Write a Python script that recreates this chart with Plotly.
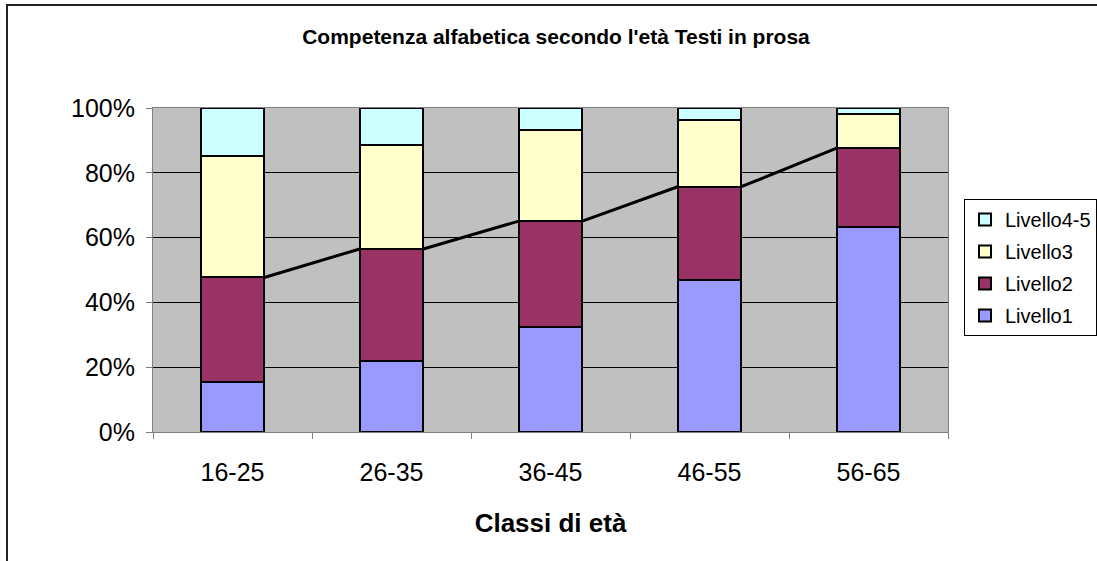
import plotly.graph_objects as go

categories = ["16-25", "26-35", "36-45", "46-55", "56-65"]
livello1 = [15.3, 21.9, 32.3, 46.9, 63.4]
livello2 = [32.4, 34.6, 32.8, 28.8, 24.2]
livello3 = [37.6, 32.1, 28.2, 20.5, 10.4]
livello45 = [14.7, 11.4, 6.7, 3.8, 2.0]
y_ticks = [0, 20, 40, 60, 80, 100]

series = [
    ("Livello1", livello1, "#9999FF"),
    ("Livello2", livello2, "#993366"),
    ("Livello3", livello3, "#FFFFCC"),
    ("Livello4-5", livello45, "#CCFFFF"),
]

W, H = 1097, 561
L, R, T, B = 153, 149, 108, 129
BAR_W = 0.4
xs = list(range(len(categories)))

fig = go.Figure()
for i, (name, vals, col) in enumerate(series):
    fig.add_trace(go.Bar(
        x=xs, y=vals, name=name, width=BAR_W,
        marker=dict(color=col, line=dict(color="black", width=2)),
        legendgroup=name, legendrank=100 - i,
    ))

# series line connecting the top of Livello2 across bars
cum2 = [a + b for a, b in zip(livello1, livello2)]
lx, ly = [], []
for i in range(len(xs) - 1):
    lx += [xs[i] + BAR_W / 2, xs[i + 1] - BAR_W / 2, None]
    ly += [cum2[i], cum2[i + 1], None]
fig.add_trace(go.Scatter(x=lx, y=ly, mode="lines", line=dict(color="black", width=3),
                         showlegend=False, hoverinfo="skip"))

pw = W - L - R
ph = H - T - B
fig.add_shape(type="rect", xref="paper", yref="paper",
              x0=(7 - L) / pw, x1=(W + 10 - L) / pw,
              y0=-(H + 10 - (T + ph)) / ph, y1=(T + ph - 5) / ph,
              line=dict(color="#222222", width=2), layer="below")

fig.update_layout(
    width=W, height=H,
    margin=dict(l=L, r=R, t=T, b=B, autoexpand=False),
    paper_bgcolor="white", plot_bgcolor="#C0C0C0",
    barmode="stack",
    font=dict(family="Liberation Sans, Arial, sans-serif", color="black"),
    title=dict(text="<b>Competenza alfabetica secondo l'età Testi in prosa</b>",
               x=(556 - 0) / W, xanchor="center", y=1 - 37 / H, yanchor="middle",
               font=dict(size=21)),
    legend=dict(x=(964 - L) / pw, xanchor="left", y=(T + ph - 199) / ph, yanchor="top",
                bordercolor="black", borderwidth=1, bgcolor="white",
                font=dict(size=20), traceorder="grouped", tracegroupgap=3),
    showlegend=True,
)
fig.update_xaxes(
    range=[-0.5, len(categories) - 0.5],
    tickvals=xs, ticktext=categories, ticks="", showgrid=False,
    tickfont=dict(size=25), ticklabelstandoff=18,
    minor=dict(tickvals=[i - 0.5 for i in range(len(categories) + 1)], ticks="outside",
               ticklen=6, tickcolor="#808080", showgrid=False),
    showline=True, linecolor="#808080", linewidth=1, mirror=True,
    title=dict(text="<b>Classi di età</b>", font=dict(size=26), standoff=28),
    zeroline=False,
)
fig.update_yaxes(
    range=[0, 100], tickvals=y_ticks, ticktext=[f"{v}%" for v in y_ticks],
    ticks="outside", ticklen=6, tickcolor="#808080",
    tickfont=dict(size=25), ticklabelstandoff=6,
    showgrid=True, gridcolor="black", gridwidth=1,
    showline=True, linecolor="#808080", linewidth=1, mirror=True,
    zeroline=False,
)

fig.write_html("out.html", config={"displayModeBar": False},
               post_script="document.body.style.margin='0';document.body.style.overflow='hidden';")
